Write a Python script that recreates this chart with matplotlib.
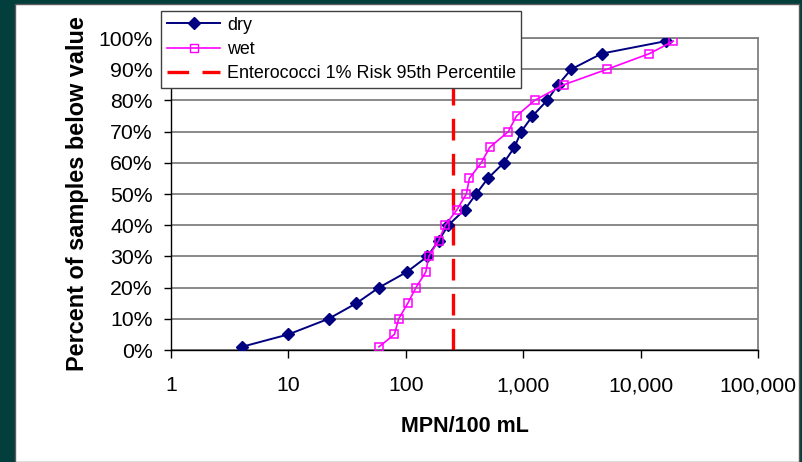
import matplotlib
matplotlib.use("Agg")
import matplotlib.pyplot as plt
from matplotlib.patches import Rectangle
from matplotlib.lines import Line2D

plt.rcParams['font.family'] = ['Liberation Sans', 'DejaVu Sans']

# ---- data ----
dry_mpn = [4, 10, 22, 38, 59, 102, 153, 190, 230, 318, 397, 500, 683, 843, 961,
           1200, 1600, 1980, 2570, 4660, 16400]
dry_pct = [1, 5, 10, 15, 20, 25, 30, 35, 40, 45, 50, 55, 60, 65, 70,
           75, 80, 85, 90, 95, 99]
wet_mpn = [59, 80, 87, 104, 122, 148, 157, 190, 217, 273, 328, 348, 439, 520, 747,
           877, 1250, 2210, 5200, 11900, 19000]
wet_pct = [1, 5, 10, 15, 20, 25, 30, 35, 40, 45, 50, 55, 60, 65, 70,
           75, 80, 85, 90, 95, 99]
risk_value = 250
x_ticks = [1, 10, 100, 1000, 10000, 100000]
x_tick_labels = ["1", "10", "100", "1,000", "10,000", "100,000"]
y_ticks = [0, 10, 20, 30, 40, 50, 60, 70, 80, 90, 100]
y_tick_labels = [f"{v}%" for v in y_ticks]
series_labels = ["dry", "wet", "Enterococci 1% Risk 95th Percentile"]
x_label = "MPN/100 mL"
y_label = "Percent of samples below value"

W, H = 803, 462
fig = plt.figure(figsize=(W / 100, H / 100), dpi=100)
fig.patch.set_facecolor('#023f3c')

# white panel
panel = Rectangle((15 / W, 0), (799 - 15) / W, 1 - 4 / H, transform=fig.transFigure,
                  facecolor='white', edgecolor='#5a5a5a', linewidth=1.0, zorder=-10)
fig.patches.append(panel)

ax = fig.add_axes([171 / W, 1 - 350 / H, (758 - 171) / W, (350 - 38) / H])
ax.set_zorder(1)
ax.set_facecolor('white')
ax.set_xscale('log')
ax.set_xlim(1, 100000)
ax.set_ylim(0, 100)

ax.set_yticks(y_ticks)
ax.set_yticklabels(y_tick_labels, fontsize=15.3)
ax.set_xticks(x_ticks)
ax.set_xticklabels(x_tick_labels, fontsize=15.3)
ax.xaxis.set_minor_locator(matplotlib.ticker.NullLocator())
ax.tick_params(axis='y', direction='out', length=5, width=1, pad=8, colors='black')
ax.tick_params(axis='x', direction='out', length=6, width=1, pad=13, colors='black')

ax.grid(axis='y', color='#808080', linewidth=1.3)
ax.set_axisbelow(True)
for s in ['top', 'right']:
    ax.spines[s].set_color('#808080')
    ax.spines[s].set_linewidth(1.3)
for s in ['left', 'bottom']:
    ax.spines[s].set_color('black')
    ax.spines[s].set_linewidth(1.0)

ax.axvline(risk_value, color='#ff0000', linewidth=2.4, dashes=(6.5, 4.0), zorder=2)
ax.plot(dry_mpn, dry_pct, color='#000080', linewidth=1.4, marker='D', markersize=6.3,
        markerfacecolor='#000080', markeredgecolor='#000080', zorder=3)
ax.plot(wet_mpn, wet_pct, color='#ff00ff', linewidth=1.2, marker='s', markersize=6,
        markerfacecolor='none', markeredgecolor='#ff00ff', markeredgewidth=1.1, zorder=4)

ax.set_xlabel(x_label, fontsize=15.5, fontweight='bold', labelpad=15)
ax.set_ylabel(y_label, fontsize=16.9, fontweight='bold', labelpad=7)

handles = [
    Line2D([], [], color='#000080', linewidth=1.4, marker='D', markersize=6.3,
           markerfacecolor='#000080', markeredgecolor='#000080'),
    Line2D([], [], color='#ff00ff', linewidth=1.2, marker='s', markersize=6,
           markerfacecolor='none', markeredgecolor='#ff00ff'),
    Line2D([], [], color='#ff0000', linewidth=2.4, dashes=(6.5, 4.0)),
]
leg = fig.legend(handles, series_labels, loc='upper left',
                 bbox_to_anchor=(161 / W, 1 - 11 / H), fontsize=12.9,
                 frameon=True, fancybox=False, framealpha=1, edgecolor='#404040',
                 handlelength=3.0, handletextpad=0.35, borderpad=0.32,
                 labelspacing=0.4, borderaxespad=0)
leg.get_frame().set_linewidth(1.0)
leg.set_zorder(10)

fig.savefig("out.png", dpi=100, facecolor=fig.get_facecolor())
